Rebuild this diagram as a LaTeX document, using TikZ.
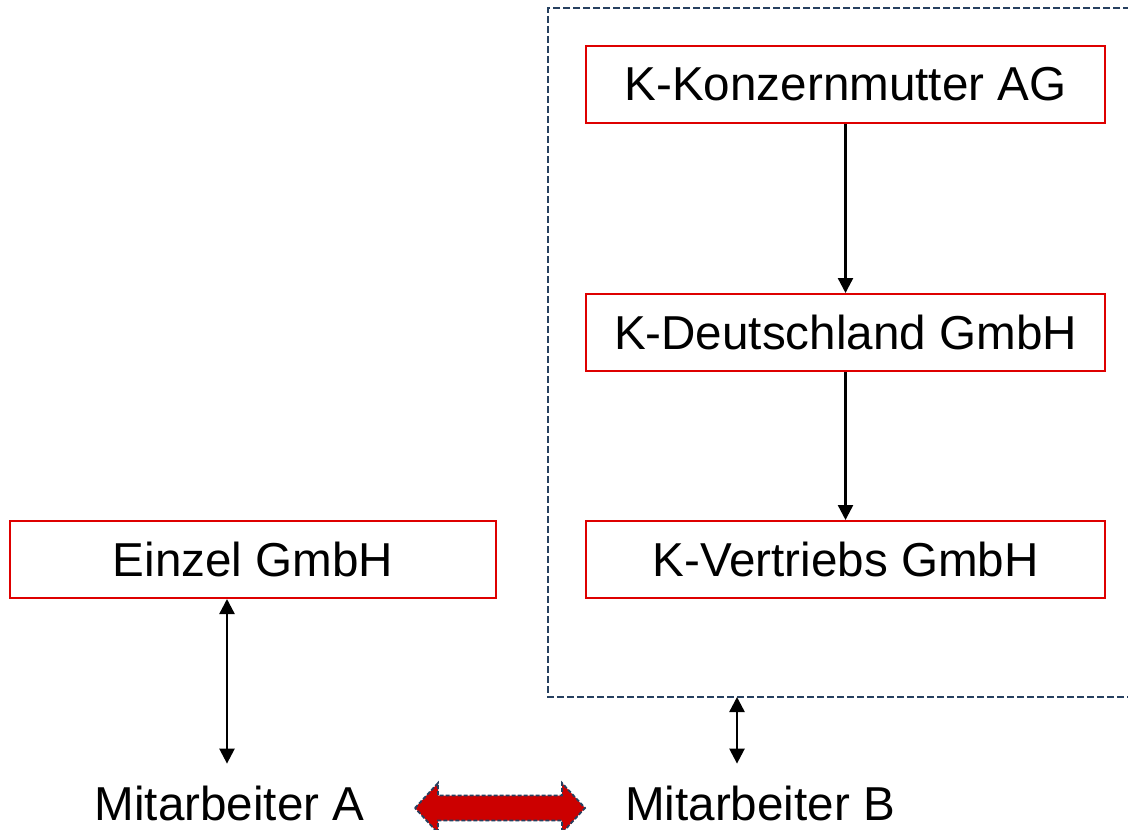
\documentclass[tikz,border=0pt]{standalone}
\usepackage{fontspec}
\setmainfont{Liberation Sans}
\usetikzlibrary{arrows.meta, positioning}
\definecolor{boxred}{RGB}{222,0,0}
\definecolor{framegray}{RGB}{38,64,96}
\definecolor{fillred}{RGB}{204,0,0}

\begin{document}
\begin{tikzpicture}[x=0.5pt,y=-0.5pt,
    every node/.style={font=\fontsize{23.8}{28}\selectfont},
    company/.style={draw=boxred,line width=1pt,minimum width=259.5pt,minimum height=38.5pt,inner sep=0pt},
    link/.style={-{Triangle[length=7.5pt,width=7.5pt]},line width=1.2pt},
    bilink/.style={{Triangle[length=7.5pt,width=7.5pt]}-{Triangle[length=7.5pt,width=7.5pt]},line width=1.2pt}]
    \useasboundingbox (0,0) rectangle (1128,829);
    % group frame
    \draw[framegray,line width=1.2pt,dash pattern=on 3.5pt off 1.5pt] (1140,8) -- (548,8) -- (548,697) -- (1140,697);
    \coordinate (fb) at (737,697);
    % companies
    \node[company] (mutter) at (845.5,84.5) {K-Konzernmutter AG};
    \node[company] (dtl) at (845.5,332.5) {K-Deutschland GmbH};
    \node[company] (vertrieb) at (845.5,559.5) {K-Vertriebs GmbH};
    \node[company,minimum width=243pt] (einzel) at (253,559.5) {Einzel GmbH};
    % employees
    \node[anchor=base,inner ysep=11pt] (ma) at (229.5,820.5) {Mitarbeiter A};
    \node[anchor=base,inner ysep=11pt] (mb) at (760,820.5) {Mitarbeiter B};
    \draw[link] (mutter) -- (dtl);
    \draw[link] (dtl) -- (vertrieb);
    \draw[bilink] (einzel.south -| 227,0) -- (ma.north -| 227,0);
    \draw[bilink] (fb) -- (fb |- mb.north);
    % red double arrow
    \coordinate (mid) at (500,808);
    \draw[framegray,fill=fillred,line width=0.9pt,dash pattern=on 2pt off 1pt]
        ([shift={(-85,0)}]mid) -- ([shift={(-62,-25)}]mid) -- ([shift={(-62,-12.5)}]mid)
        -- ([shift={(62,-12.5)}]mid) -- ([shift={(62,-25)}]mid) -- ([shift={(85,0)}]mid)
        -- ([shift={(62,25)}]mid) -- ([shift={(62,12.5)}]mid) -- ([shift={(-62,12.5)}]mid)
        -- ([shift={(-62,25)}]mid) -- cycle;
\end{tikzpicture}
\end{document}
